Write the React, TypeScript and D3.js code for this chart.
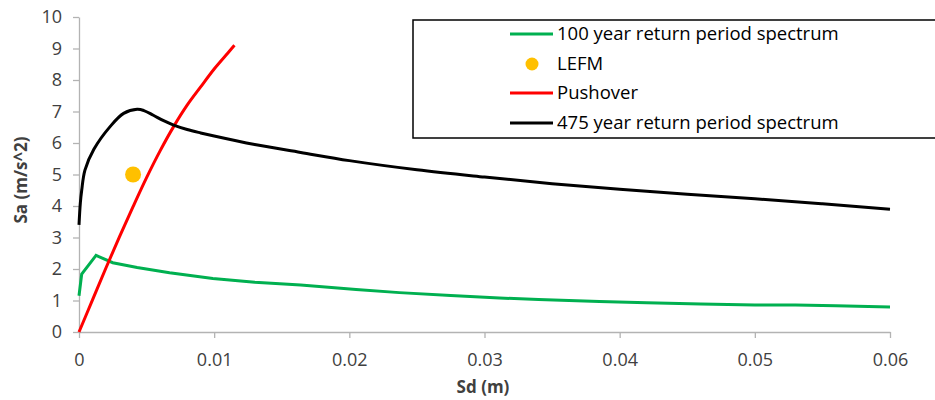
import * as d3 from 'd3';
import React, { useEffect, useRef } from 'react';

// Sd (m) / Sa (m/s^2)
const green100X = [0, 0.0002, 0.00126, 0.0025, 0.0043, 0.0067, 0.0099, 0.013, 0.0164, 0.0205, 0.0237, 0.0275, 0.0311, 0.034, 0.0385, 0.042, 0.046, 0.05, 0.053, 0.056, 0.06];
const green100Y = [1.15, 1.84, 2.43, 2.2, 2.05, 1.88, 1.7, 1.58, 1.49, 1.35, 1.25, 1.16, 1.08, 1.03, 0.97, 0.93, 0.89, 0.86, 0.86, 0.83, 0.79];

const black475X = [0, 0.0001, 0.0002, 0.00044, 0.0011, 0.0023, 0.0033, 0.0043, 0.0048, 0.0055, 0.0063, 0.007, 0.008, 0.009, 0.01, 0.013, 0.0164, 0.02, 0.025, 0.03, 0.035, 0.04, 0.045, 0.05, 0.055, 0.06];
const black475Y = [3.4, 4.1, 4.5, 5.14, 5.8, 6.52, 6.94, 7.07, 7.03, 6.88, 6.7, 6.57, 6.43, 6.32, 6.22, 5.95, 5.7, 5.44, 5.15, 4.92, 4.71, 4.53, 4.37, 4.23, 4.07, 3.9];

const pushX = [0, 0.001, 0.002, 0.003, 0.004, 0.005, 0.006, 0.007, 0.008, 0.009, 0.01, 0.011, 0.0115];
const pushY = [0, 1.02, 2.04, 3.03, 3.98, 4.9, 5.75, 6.52, 7.2, 7.78, 8.35, 8.85, 9.1];

const lefmX = [0.004];
const lefmY = [5.0];

const xTicks = [0, 0.01, 0.02, 0.03, 0.04, 0.05, 0.06];
const yTicks = [0, 1, 2, 3, 4, 5, 6, 7, 8, 9, 10];

const legendItems = [
  { label: '100 year return period spectrum', color: '#00b050', kind: 'line' },
  { label: 'LEFM', color: '#ffc000', kind: 'dot' },
  { label: 'Pushover', color: '#ff0000', kind: 'line' },
  { label: '475 year return period spectrum', color: '#000000', kind: 'line' },
];

const W = 935;
const H = 400;
const margin = { top: 17, right: 45, bottom: 68, left: 79 };
const FONT = '"Open Sans", "Liberation Sans", sans-serif';

export default function App() {
  const ref = useRef<SVGSVGElement>(null);

  useEffect(() => {
    const svg = d3.select(ref.current);
    svg.selectAll('*').remove();

    const x = d3.scaleLinear().domain([0, 0.06]).range([margin.left, W - margin.right]);
    const y = d3.scaleLinear().domain([0, 10]).range([H - margin.bottom, margin.top]);

    // axes
    svg.append('g')
      .attr('transform', 'translate(0,' + (H - margin.bottom) + ')')
      .call(d3.axisBottom(x).tickValues(xTicks).tickSize(6).tickSizeOuter(0).tickFormat((d) => String(+d)))
      .call(g => g.select('.domain').attr('stroke', '#b3b3b3').attr('stroke-width', 1.3))
      .call(g => g.selectAll('.tick line').attr('stroke', '#b3b3b3').attr('stroke-width', 1.3))
      .call(g => g.selectAll('.tick text').attr('y', 21).attr('font-size', 18).attr('fill', '#404040').attr('font-family', FONT));

    svg.append('g')
      .attr('transform', 'translate(' + margin.left + ',0)')
      .call(d3.axisLeft(y).tickValues(yTicks).tickSize(6).tickSizeOuter(0))
      .call(g => g.select('.domain').attr('stroke', '#b3b3b3').attr('stroke-width', 1.3))
      .call(g => g.selectAll('.tick line').attr('stroke', '#b3b3b3').attr('stroke-width', 1.3))
      .call(g => g.selectAll('.tick text').attr('x', -17).attr('font-size', 18).attr('fill', '#404040').attr('font-family', FONT));

    // axis titles
    svg.append('text')
      .attr('x', 483)
      .attr('y', 393)
      .attr('text-anchor', 'middle')
      .attr('font-family', FONT)
      .attr('font-weight', 'bold')
      .attr('font-size', 17)
      .attr('fill', '#404040')
      .text('Sd (m)');

    svg.append('text')
      .attr('transform', 'translate(27,' + 180 + ') rotate(-90)')
      .attr('text-anchor', 'middle')
      .attr('font-family', FONT)
      .attr('font-weight', 'bold')
      .attr('font-size', 17)
      .attr('fill', '#404040')
      .text('Sa (m/s^2)');

    const line = d3.line<[number, number]>()
      .x(d => x(d[0]))
      .y(d => y(d[1]));

    const smooth = d3.line<[number, number]>()
      .curve(d3.curveCatmullRom.alpha(0.5))
      .x(d => x(d[0]))
      .y(d => y(d[1]));

    const zip = (xs: number[], ys: number[]) => xs.map((v, i) => [v, ys[i]] as [number, number]);

    svg.append('path')
      .attr('d', line(zip(green100X, green100Y)))
      .attr('fill', 'none').attr('stroke', '#00b050').attr('stroke-width', 3);

    svg.selectAll('.lefm')
      .data(zip(lefmX, lefmY))
      .enter()
      .append('circle')
      .attr('cx', d => x(d[0]))
      .attr('cy', d => y(d[1]))
      .attr('r', 8)
      .attr('fill', '#ffc000');

    svg.append('path')
      .attr('d', smooth(zip(pushX, pushY)))
      .attr('fill', 'none').attr('stroke', '#ff0000').attr('stroke-width', 3);

    svg.append('path')
      .attr('d', smooth(zip(black475X, black475Y)))
      .attr('fill', 'none').attr('stroke', '#000000').attr('stroke-width', 3);

    // legend
    const lg = svg.append('g');
    lg.append('rect')
      .attr('x', 413).attr('y', 20).attr('width', 540).attr('height', 118)
      .attr('fill', 'white').attr('stroke', '#000').attr('stroke-width', 1.5);

    const rows = [34, 64, 93, 123];
    legendItems.forEach((item, i) => {
      const ry = rows[i];
      if (item.kind === 'line') {
        lg.append('line')
          .attr('x1', 510).attr('x2', 553).attr('y1', ry).attr('y2', ry)
          .attr('stroke', item.color).attr('stroke-width', 3);
      } else {
        lg.append('circle').attr('cx', 532).attr('cy', ry).attr('r', 6.5).attr('fill', item.color);
      }
      lg.append('text')
        .attr('x', 557).attr('y', ry)
        .attr('dy', '0.35em')
        .attr('font-family', FONT)
        .attr('font-size', 18.5)
        .attr('fill', '#000')
        .text(item.label);
    });
  }, []);

  return (
    <svg ref={ref} width={W} height={H} style={{ position: 'absolute', left: 0, top: 0, background: 'white' }} />
  );
}
